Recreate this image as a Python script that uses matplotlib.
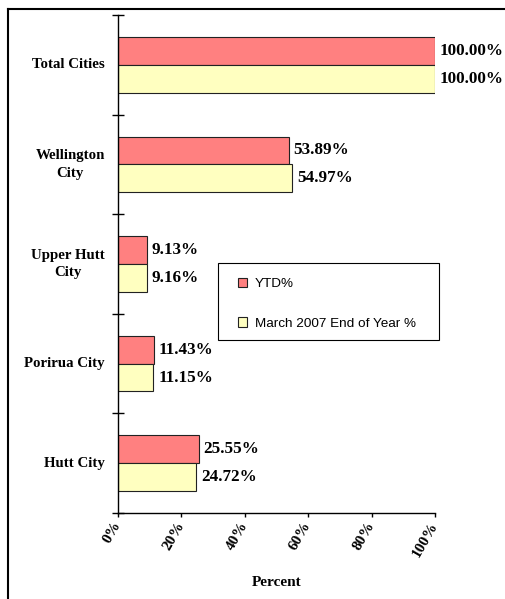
import numpy as np
import matplotlib.pyplot as plt
from matplotlib.lines import Line2D
from matplotlib.patches import Rectangle
from matplotlib.ticker import FuncFormatter

plt.rcParams.update({'font.family': 'Liberation Serif', 'font.weight': 'bold'})

cities = ['Total Cities', 'Wellington\nCity', 'Upper Hutt\nCity', 'Porirua City', 'Hutt City']
ytd = [100.00, 53.89, 9.13, 11.43, 25.55]
eoy = [100.00, 54.97, 9.16, 11.15, 24.72]
x_ticks = [0, 20, 40, 60, 80, 100]

red = '#FF8080'
yellow = '#FFFFC0'

fig = plt.figure(figsize=(5.05, 5.99), dpi=100)
ax = fig.add_axes([118 / 505, 86 / 599, 317 / 505, 498 / 599])

y = np.arange(len(cities))
h = 0.28
ax.barh(y - h / 2, ytd, height=h, color=red, edgecolor='#222222', linewidth=0.8, label='YTD%')
ax.barh(y + h / 2, eoy, height=h, color=yellow, edgecolor='#222222', linewidth=0.8,
        label='March 2007 End of Year %')

for yi, a, b in zip(y, ytd, eoy):
    ax.text(a + 1.5, yi - h / 2, '%.2f%%' % a, va='center', ha='left', fontsize=12.3, fontweight='bold')
    ax.text(b + 1.5, yi + h / 2, '%.2f%%' % b, va='center', ha='left', fontsize=12.3, fontweight='bold')

ax.set_xlim(0, 100)
ax.set_ylim(len(cities) - 0.5, -0.5)
ax.set_xticks(x_ticks)
ax.xaxis.set_major_formatter(FuncFormatter(lambda v, p: '%d%%' % v))
for lab in ax.get_xticklabels():
    lab.set_rotation(60)
    lab.set_ha('right')
    lab.set_va('center')
    lab.set_rotation_mode('anchor')
    lab.set_fontsize(11)
    lab.set_fontweight('bold')

ax.set_yticks(np.arange(len(cities) + 1) - 0.5)
ax.set_yticklabels([])
ax.tick_params(axis='y', direction='inout', length=9, width=1)
ax.tick_params(axis='x', direction='out', length=3, width=1, pad=4)
for yi, name in zip(y, cities):
    ax.text(-4.2, yi, name, ha='right', va='center', multialignment='center',
            fontsize=10.7, fontweight='bold', linespacing=1.45)

for s in ['top', 'right']:
    ax.spines[s].set_visible(False)
ax.spines['left'].set_linewidth(1)
ax.spines['bottom'].set_linewidth(1)

ax.set_xlabel('Percent', fontsize=11, fontweight='bold', labelpad=12)

# legend box drawn by hand, entries placed inside it
ax.add_patch(Rectangle((218 / 505, 1 - 340 / 599), 221 / 505, 77 / 599, transform=fig.transFigure,
                       facecolor='white', edgecolor='black', linewidth=0.8, zorder=6, clip_on=False))
leg = ax.legend(loc='upper left', bbox_to_anchor=(238 / 505, 1 - 278 / 599), bbox_transform=fig.transFigure,
                prop={'family': 'Liberation Sans', 'size': 9.7, 'weight': 'normal'},
                frameon=False, handlelength=0.7, handleheight=0.7, handletextpad=0.55,
                labelspacing=1.98, borderpad=0, borderaxespad=0)
leg.set_zorder(7)

# outer chart border (top and left edges visible)
fig.add_artist(Line2D([8 / 505, 1], [1 - 9 / 599, 1 - 9 / 599], color='black', linewidth=1.5))
fig.add_artist(Line2D([8 / 505, 8 / 505], [0, 1 - 9 / 599], color='black', linewidth=1.5))

plt.savefig('out.png', dpi=100)
